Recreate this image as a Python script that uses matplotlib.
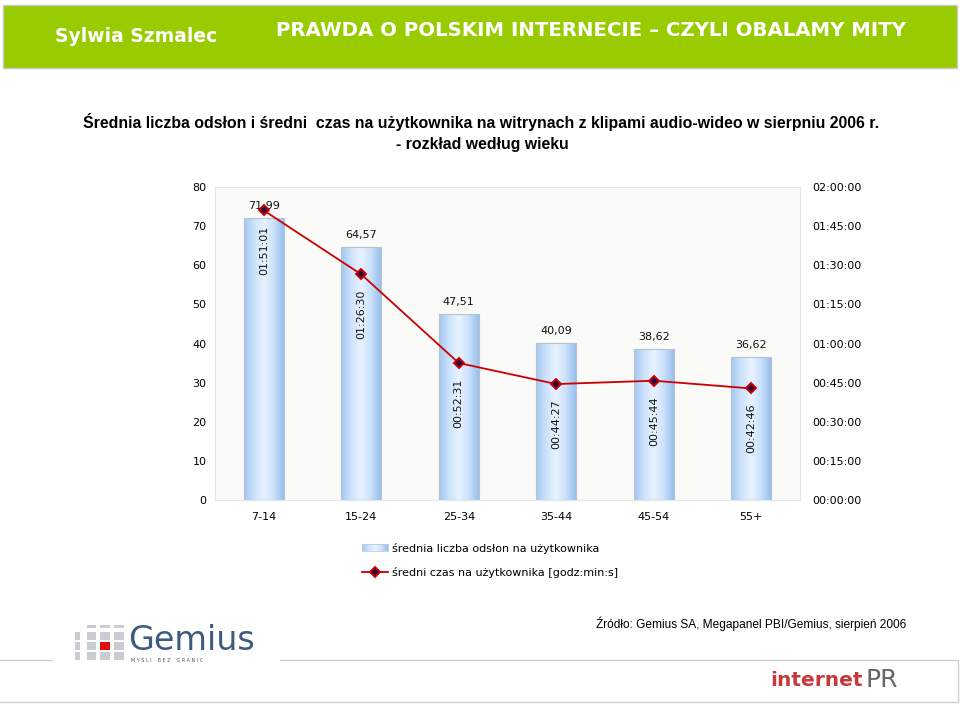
import numpy as np
import matplotlib
matplotlib.use('Agg')
import matplotlib.pyplot as plt
from matplotlib.patches import Rectangle
from matplotlib.colors import LinearSegmentedColormap
from matplotlib.lines import Line2D

# ---- data ----
categories = ['7-14', '15-24', '25-34', '35-44', '45-54', '55+']
page_views = [71.99, 64.57, 47.51, 40.09, 38.62, 36.62]
page_view_labels = ['71,99', '64,57', '47,51', '40,09', '38,62', '36,62']
time_labels = ['01:51:01', '01:26:30', '00:52:31', '00:44:27', '00:45:44', '00:42:46']
left_ticks = [0, 10, 20, 30, 40, 50, 60, 70, 80]
right_tick_labels = ['00:00:00', '00:15:00', '00:30:00', '00:45:00', '01:00:00',
                     '01:15:00', '01:30:00', '01:45:00', '02:00:00']


def to_sec(s):
    h, m, sec = map(int, s.split(':'))
    return h * 3600 + m * 60 + sec


time_sec = [to_sec(t) for t in time_labels]
right_ticks = [to_sec(t) for t in right_tick_labels]

W, H = 960, 705


def fx(x):
    return x / W


def fy(y):
    return 1 - y / H


fig = plt.figure(figsize=(9.6, 7.05), dpi=100)
fig.patch.set_facecolor('white')

# ---- header ----
fig.patches.append(Rectangle((fx(3), fy(68)), 954 / W, 63 / H, transform=fig.transFigure,
                             facecolor='#99cc00', edgecolor='#c8c8c8', linewidth=1))
fig.text(fx(55), fy(36), 'Sylwia Szmalec', color='white', fontsize=13.5, fontweight='bold',
         family='DejaVu Sans', va='center', ha='left')
fig.text(fx(276), fy(31), 'PRAWDA O POLSKIM INTERNECIE \u2013 CZYLI OBALAMY MITY', color='white',
         fontsize=14.2, fontweight='bold', family='DejaVu Sans', va='center', ha='left')

# ---- title ----
fig.text(fx(481), fy(122), '\u015arednia liczba ods\u0142on i \u015bredni  czas na u\u017cytkownika na witrynach z klipami audio-wideo w sierpniu 2006 r.',
         fontsize=11.4, fontweight='bold', family='Liberation Sans', ha='center', va='center')
fig.text(fx(482), fy(145), '- rozk\u0142ad wed\u0142ug wieku',
         fontsize=11.4, fontweight='bold', family='Liberation Sans', ha='center', va='center')

# ---- chart ----
ax = fig.add_axes([fx(215), fy(500), 585 / W, 313 / H])
ax.set_facecolor('#fafaf9')
x = np.arange(len(categories))
bars = ax.bar(x, page_views, width=0.41, facecolor='none', edgecolor='#b4c2d2',
              linewidth=0.8, zorder=3)
cmap = LinearSegmentedColormap.from_list('barg', ['#a4c8f0', '#cce2fb', '#e8f3ff', '#cce1fa', '#98c0ee'])
grad = np.linspace(0, 1, 64).reshape(1, -1)
for b in bars:
    im = ax.imshow(grad, cmap=cmap, aspect='auto', zorder=2,
                   extent=[b.get_x(), b.get_x() + b.get_width(), 0, b.get_height()])
    im.set_clip_path(b)
ax.set_xlim(-0.5, len(categories) - 0.5)
ax.set_ylim(0, 80)
ax.set_aspect('auto')

for xi, v, lab in zip(x, page_views, page_view_labels):
    ax.annotate(lab, (xi, v), xytext=(0, 5), textcoords='offset points',
                ha='center', va='bottom', fontsize=8, family='DejaVu Sans', color='#111111')

ax.set_yticks(left_ticks)
ax.set_xticks(x)
ax.set_xticklabels(categories)
ax.tick_params(axis='y', length=0, labelsize=8, pad=6)
ax.tick_params(axis='x', length=0, labelsize=8, pad=9)
for s in ax.spines.values():
    s.set_color('#e6e6e6')
    s.set_linewidth(0.8)

ax2 = ax.twinx()
ax2.set_ylim(0, 7200)
ax2.plot(x, time_sec, color='#cc0000', lw=1.3, marker='D', ms=5,
         mfc='#2a0a40', mec='#cc0000', mew=1.4, zorder=5)
for xi, s, lab in zip(x, time_sec, time_labels):
    ax2.annotate(lab, (xi, s), xytext=(0, -11), textcoords='offset points', rotation=90,
                 ha='center', va='top', fontsize=8, family='DejaVu Sans', color='#111111')
ax2.set_yticks(right_ticks)
ax2.set_yticklabels(right_tick_labels)
ax2.tick_params(axis='y', length=0, labelsize=8, pad=9)
for s in ax2.spines.values():
    s.set_visible(False)

# ---- legend (manual) ----
lax = fig.add_axes([fx(362), fy(551), 26 / W, 7 / H])
lax.imshow(grad, cmap=cmap, aspect='auto')
lax.set_xticks([]); lax.set_yticks([])
for s in lax.spines.values():
    s.set_color('#bccbdb'); s.set_linewidth(0.6)
fig.text(fx(392), fy(548), '\u015brednia liczba ods\u0142on na u\u017cytkownika', fontsize=8,
         family='DejaVu Sans', va='center', ha='left')
fig.lines.append(Line2D([fx(362), fx(388)], [fy(572), fy(572)], transform=fig.transFigure,
                        color='#cc0000', lw=1.3))
fig.lines.append(Line2D([fx(375)], [fy(572)], transform=fig.transFigure, marker='D', ms=5,
                        mfc='#2a0a40', mec='#cc0000', mew=1.4, color='#cc0000'))
fig.text(fx(392), fy(572), '\u015bredni czas na u\u017cytkownika [godz:min:s]', fontsize=8,
         family='DejaVu Sans', va='center', ha='left')

# ---- source ----
fig.text(fx(596), fy(624), '\u0179r\u00f3d\u0142o: Gemius SA, Megapanel PBI/Gemius, sierpie\u0144 2006',
         fontsize=8.6, family='Liberation Sans', va='center', ha='left')

# ---- bottom box ----
box_col = '#cfcfcf'
fig.lines.append(Line2D([fx(0), fx(52)], [fy(660), fy(660)], transform=fig.transFigure, color=box_col, lw=1))
fig.lines.append(Line2D([fx(280), fx(958), fx(958), fx(0)], [fy(660), fy(660), fy(702), fy(702)],
                        transform=fig.transFigure, color=box_col, lw=1))

# ---- Gemius logo ----
cols = [(75, 5), (87, 9), (100, 10), (114, 10)]
rows = [(625, 3), (632, 8), (642, 8), (652, 8)]
for ci, (cx, cw) in enumerate(cols):
    for ri, (ry, rh) in enumerate(rows):
        if ci == 0 and ri == 0:
            continue
        col = '#c9cdd3'
        if ci == 2 and ri == 2:
            col = '#e01010'
        fig.patches.append(Rectangle((fx(cx), fy(ry + rh)), cw / W, rh / H, transform=fig.transFigure,
                                     facecolor=col, edgecolor='none'))
fig.text(fx(128), fy(641), 'Gemius', fontsize=24, color='#3d5a80', family='DejaVu Sans',
         va='center', ha='left')
fig.text(fx(131), fy(660), 'M Y \u015a L I    B E Z    G R A N I C', fontsize=3.5, color='#555555',
         family='DejaVu Sans', va='center', ha='left')

# ---- internet PR ----
fig.text(fx(770), fy(681), 'internet', fontsize=14.5, color='#c8373a', fontweight='bold',
         family='DejaVu Sans', va='center', ha='left')
fig.text(fx(866), fy(680), 'PR', fontsize=18, color='#666666', family='DejaVu Sans',
         va='center', ha='left')

fig.savefig('out.png', dpi=100)
